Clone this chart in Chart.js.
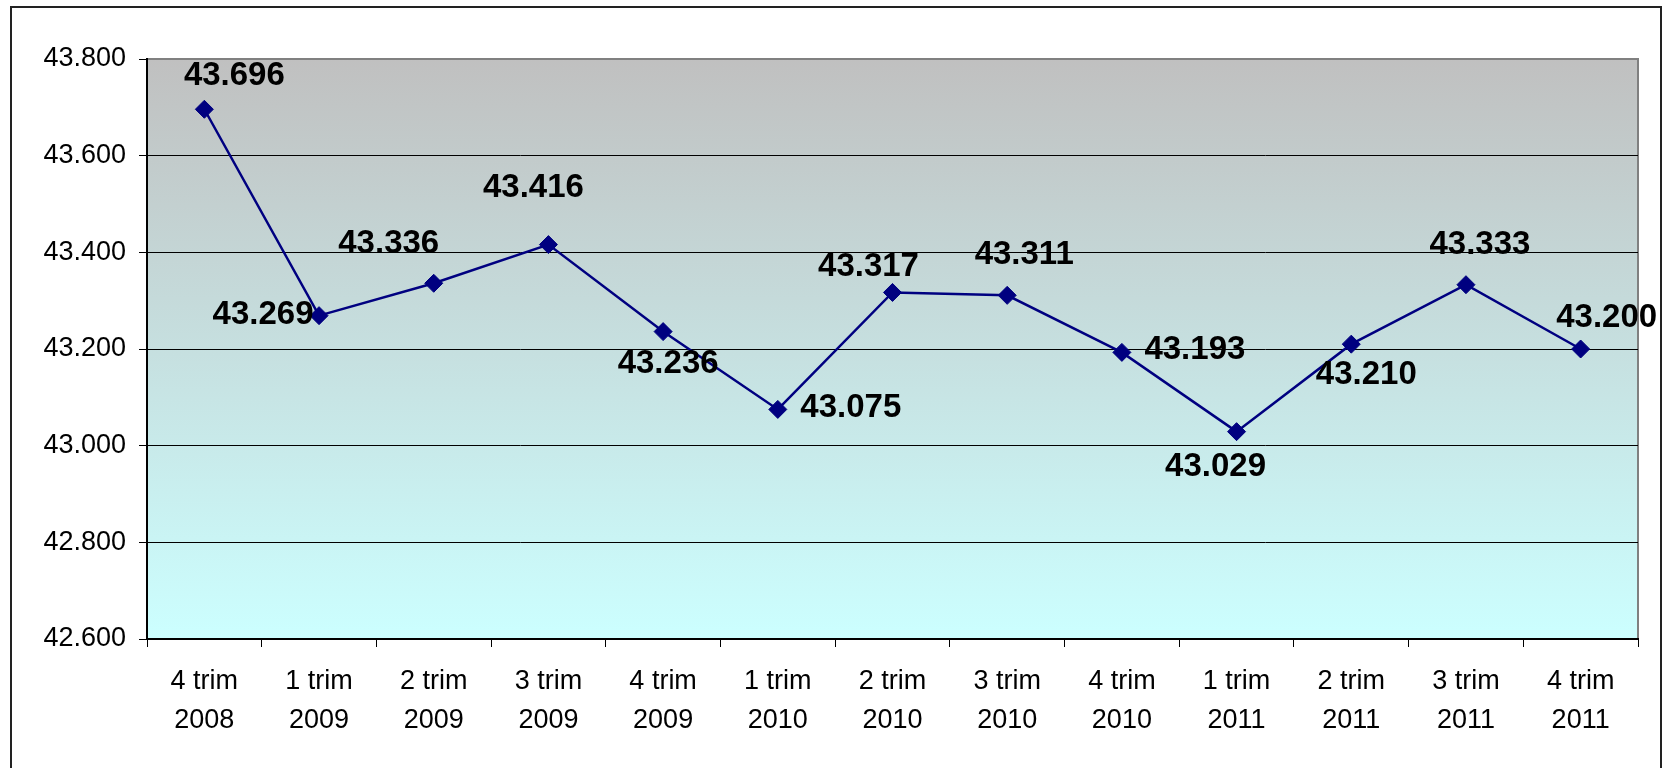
<!DOCTYPE html>
<html>
<head>
<meta charset="utf-8">
<title>Trimestri</title>
<script src="https://cdn.jsdelivr.net/npm/chart.js@4.4.1/dist/chart.umd.min.js"></script>
<style>
	html, body { margin: 0; padding: 0; background: #ffffff; }
	#wrap { width: 1664px; height: 768px; }
</style>
</head>
<body>
<div id="wrap"><canvas id="lineChart" width="1664" height="768"></canvas></div>
<script>
var quarters = ['4 trim', '1 trim', '2 trim', '3 trim', '4 trim', '1 trim', '2 trim', '3 trim', '4 trim', '1 trim', '2 trim', '3 trim', '4 trim'];
var years = ['2008', '2009', '2009', '2009', '2009', '2010', '2010', '2010', '2010', '2011', '2011', '2011', '2011'];
var values = [43696, 43269, 43336, 43416, 43236, 43075, 43317, 43311, 43193, 43029, 43210, 43333, 43200];
var yTicks = [42600, 42800, 43000, 43200, 43400, 43600, 43800];

// where each value label sits relative to its marker (dx, dy)
var labelOffsets = [[30, -33], [-56, -1], [-45, -39], [-15, -57], [5, 32], [73, -2], [-24, -26], [17, -40], [73, -2], [-21, 35], [15, 31], [14, -40], [26, -31]];

var labels = quarters.map(function(q, i) { return [q, years[i]]; });
var themeFont = "'Liberation Sans', Arial, sans-serif";

function fmt(v) {
	var s = String(Math.round(v));
	return s.slice(0, -3) + '.' + s.slice(-3);
}

var plotBackground = {
	id: 'plotBackground',
	beforeDraw: function(chart) {
		var ctx = chart.ctx, a = chart.chartArea;
		ctx.save();
		ctx.fillStyle = '#ffffff';
		ctx.fillRect(0, 0, chart.width, chart.height);
		ctx.strokeStyle = '#222222';
		ctx.lineWidth = 2;
		ctx.strokeRect(11, 7, 1650, 800);
		var g = ctx.createLinearGradient(0, a.top, 0, a.bottom);
		g.addColorStop(0, '#c0c0c0');
		g.addColorStop(1, '#ccffff');
		ctx.fillStyle = g;
		ctx.fillRect(a.left, a.top, a.right - a.left, a.bottom - a.top);
		ctx.strokeStyle = '#808080';
		ctx.lineWidth = 2;
		ctx.strokeRect(a.left, a.top, a.right - a.left, a.bottom - a.top);
		ctx.restore();
	}
};

var valueLabels = {
	id: 'valueLabels',
	afterDatasetsDraw: function(chart) {
		var ctx = chart.ctx;
		var meta = chart.getDatasetMeta(0);
		ctx.save();
		ctx.font = 'bold 33px ' + themeFont;
		ctx.fillStyle = '#000000';
		ctx.textAlign = 'center';
		ctx.textBaseline = 'middle';
		meta.data.forEach(function(pt, i) {
			var off = labelOffsets[i];
			ctx.fillText(fmt(values[i]), pt.x + off[0], pt.y + off[1]);
		});
		ctx.restore();
	}
};

Chart.defaults.font.family = themeFont;
Chart.defaults.color = '#000000';

new Chart(document.getElementById('lineChart'), {
	type: 'line',
	data: {
		labels: labels,
		datasets: [{
			data: values,
			borderColor: '#000080',
			borderWidth: 2.5,
			backgroundColor: '#000080',
			pointStyle: 'rectRot',
			pointRadius: 9,
			pointBorderWidth: 1,
			pointBackgroundColor: '#000080',
			pointBorderColor: '#000080',
			tension: 0,
			fill: false
		}]
	},
	options: {
		responsive: false,
		animation: false,
		layout: { padding: { left: 0, top: 59, right: 26, bottom: 0 } },
		plugins: {
			legend: { display: false },
			tooltip: { enabled: false }
		},
		scales: {
			x: {
				offset: true,
				grid: {
					offset: true,
					drawOnChartArea: false,
					drawTicks: true,
					tickLength: 8,
					tickColor: '#000000',
					lineWidth: 1
				},
				border: { color: '#000000', width: 2 },
				ticks: {
					autoSkip: false,
					maxRotation: 0,
					padding: 15,
					color: '#000000',
					font: { size: 27, lineHeight: 1.44 }
				},
				afterFit: function(s) { s.height = 129; }
			},
			y: {
				min: yTicks[0],
				max: yTicks[yTicks.length - 1],
				afterBuildTicks: function(s) {
					s.ticks = yTicks.map(function(v) { return { value: v }; });
				},
				grid: {
					color: function(c) { return c.tick && c.tick.value === yTicks[yTicks.length - 1] ? '#808080' : '#000000'; },
					lineWidth: 1,
					tickLength: 8,
					tickColor: '#000000'
				},
				border: { color: '#000000', width: 2 },
				ticks: {
					padding: 13,
					color: '#000000',
					font: { size: 27 },
					callback: function(v) { return fmt(v); }
				},
				afterFit: function(s) { s.width = 147; }
			}
		}
	},
	plugins: [plotBackground, valueLabels]
});
</script>
</body>
</html>
